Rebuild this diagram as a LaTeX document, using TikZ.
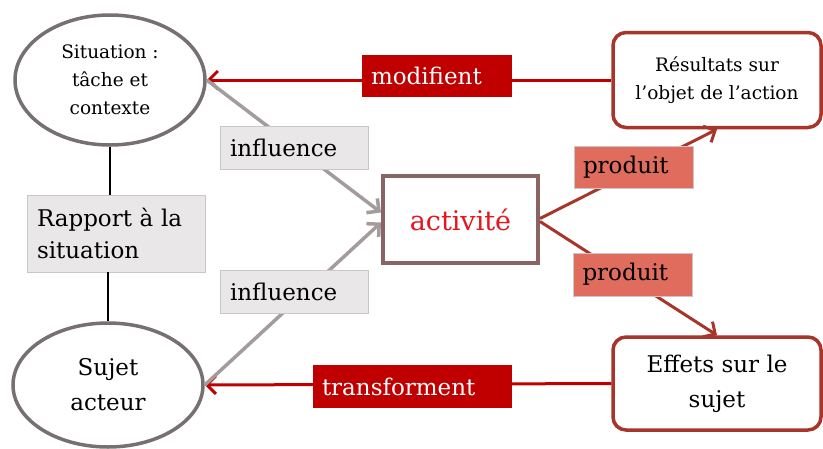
\documentclass[tikz,border=0pt]{standalone}
\usepackage{fontspec}
\setmainfont{DejaVu Serif}
\usetikzlibrary{arrows.meta,shapes.geometric}
\definecolor{ellgray}{HTML}{767070}
\definecolor{boxred}{HTML}{A6352A}
\definecolor{actgray}{HTML}{8A6464}
\definecolor{lblred}{HTML}{C00000}
\definecolor{lblgray}{HTML}{E9E7E7}
\definecolor{lblgrayd}{HTML}{C8C6C6}
\definecolor{prodfill}{HTML}{E06C5E}
\definecolor{infgray}{HTML}{A49C9C}
\definecolor{acttext}{HTML}{E4161E}
\begin{document}
\begin{tikzpicture}[x=1pt,y=-1pt,
  ell/.style={ellipse, draw=ellgray, line width=3.5pt, fill=white, inner sep=0pt, align=center},
  resbox/.style={rectangle, rounded corners=13pt, draw=boxred, line width=3.5pt, fill=white, inner sep=0pt, align=center},
  actbox/.style={rectangle, draw=actgray, line width=4pt, fill=white, inner sep=0pt},
  graylbl/.style={rectangle, draw=lblgrayd, fill=lblgray, line width=0.8pt, inner xsep=10pt, inner ysep=0pt, align=left, font=\fontsize{23}{32}\selectfont},
  redlbl/.style={rectangle, fill=lblred, inner xsep=9pt, inner ysep=0pt, align=left, text=white, font=\fontsize{23}{28}\selectfont},
  prodlbl/.style={rectangle, draw=lblgrayd, line width=0.6pt, fill=prodfill, inner xsep=9pt, inner ysep=0pt, align=left, font=\fontsize{23}{28}\selectfont},
  redarrow/.style={draw=lblred, line width=3pt, -{Straight Barb[length=9pt,width=18pt,line width=3pt]}},
  infarrow/.style={draw=infgray, line width=3.5pt, -{Straight Barb[length=9pt,width=18pt,line width=3.5pt]}},
  prodarrow/.style={draw=boxred, line width=3pt, -{Straight Barb[length=9pt,width=18pt,line width=3pt]}},
  plain/.style={draw=black, line width=2.5pt}
]
\useasboundingbox[fill=white] (0,0) rectangle (823,448);

% main nodes
\node[ell, minimum width=190pt, minimum height=130pt, font=\fontsize{18.5}{28}\selectfont] (sit) at (110,80) {Situation :\\tâche et\\contexte};
\node[ell, minimum width=190pt, minimum height=124pt, font=\fontsize{23}{35}\selectfont] (suj) at (108,385) {Sujet\\acteur};
\node[actbox, minimum width=155pt, minimum height=87pt, text=acttext, font=\fontsize{27}{32}\selectfont] (act) at (460.5,219.5) {activité};
\node[resbox, minimum width=208pt, minimum height=95pt, font=\fontsize{18.5}{28}\selectfont] (res) at (717,80) {Résultats sur\\l’objet de l’action};
\node[resbox, minimum width=208pt, minimum height=93pt, font=\fontsize{23}{35}\selectfont] (eff) at (717,383.5) {Effets sur le\\sujet};
\node[graylbl, text width=158pt, minimum height=77pt] (rap) at (116,233.5) {Rapport à la\\situation};

% connectors
\draw[plain] (sit.south) -- (sit.south |- rap.north);
\draw[plain] (suj.north |- rap.south) -- (suj.north);
\draw[redarrow] (res.west) -- (sit.east);
\draw[redarrow] (eff.west) -- (suj.east);
\draw[infarrow] (sit.east) -- ([yshift=7pt]act.west);
\draw[infarrow] (suj.east) -- ([yshift=-3pt]act.west);
\draw[prodarrow] ([yshift=1pt]act.east) -- (res.south);
\draw[prodarrow] ([yshift=-2pt]act.east) -- (eff.north);

% labels
\node[redlbl, text width=132pt, minimum height=42pt] (lmod) at (437,76) {modifient};
\node[redlbl, text width=181pt, minimum height=43pt] (ltra) at (412.5,386.5) {transforment};
\node[graylbl, text width=128pt, minimum height=43pt] (linf1) at (294,147.5) {influence};
\node[graylbl, text width=128pt, minimum height=43pt] (linf2) at (294,291.5) {influence};
\node[prodlbl, text width=101pt, minimum height=42pt] (lpro1) at (633.5,167) {produit};
\node[prodlbl, text width=101pt, minimum height=43pt] (lpro2) at (633,274.5) {produit};
\end{tikzpicture}
\end{document}
